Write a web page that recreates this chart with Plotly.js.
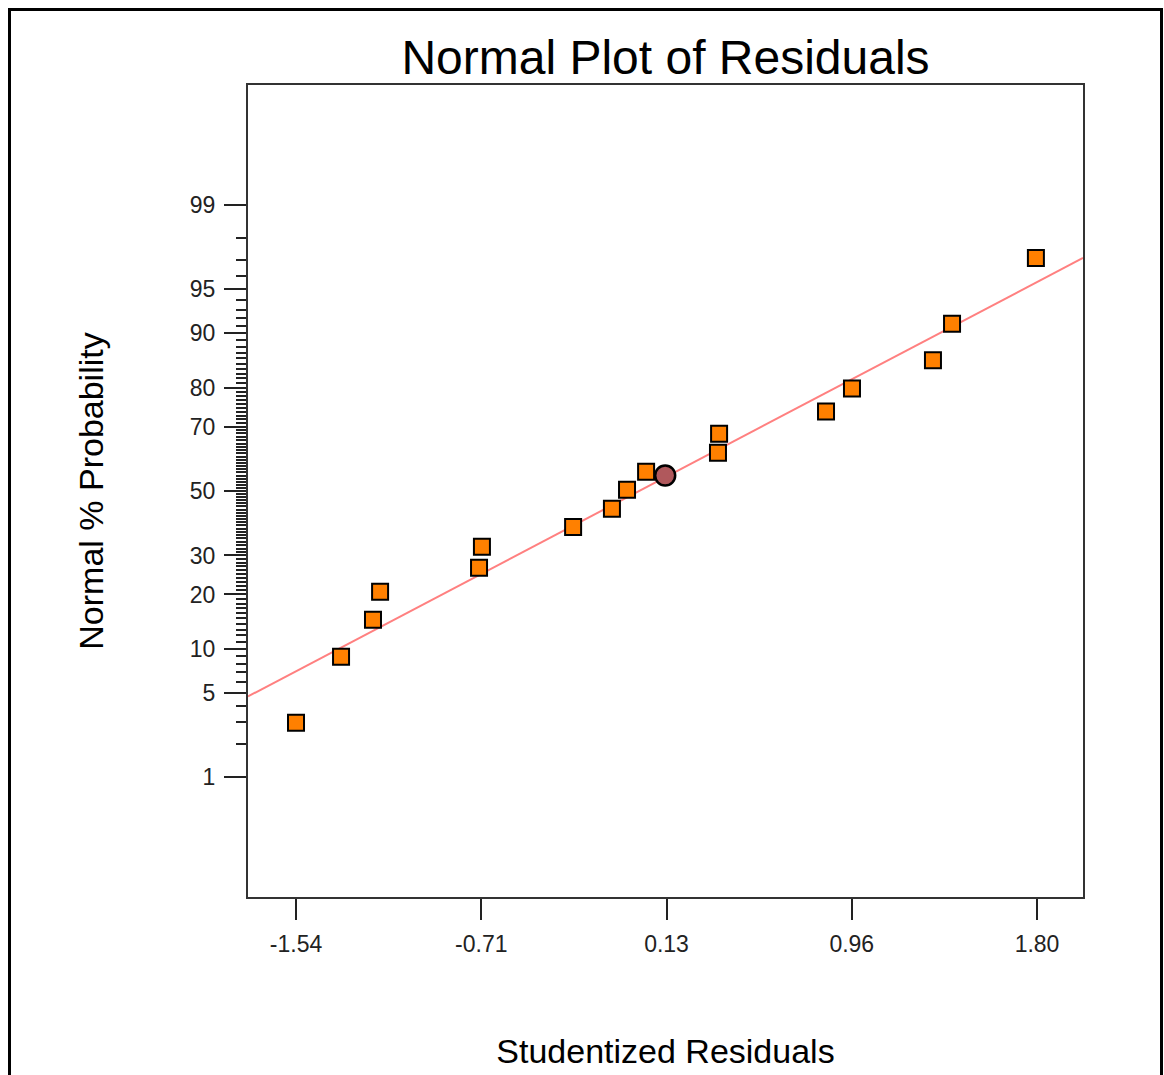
<!DOCTYPE html>
<html>
<head>
<meta charset="utf-8">
<script src="https://cdn.plot.ly/plotly-3.0.1.min.js"></script>
<style>
  html, body { margin: 0; padding: 0; background: #fff; overflow: hidden; }
  #chart { position: absolute; left: 0; top: 0; width: 1164px; height: 1075px; }
  #frame { position: absolute; left: 8px; top: 8px; width: 1155px; height: 1200px;
           border: 3px solid #000; box-sizing: border-box; pointer-events: none; }
</style>
</head>
<body>
<div id="chart"></div>
<div id="frame"></div>
<script>
// ---- data ----
const residuals = [-1.54, -1.337, -1.193, -1.161, -0.715, -0.702, -0.291, -0.116, -0.048, 0.038,
                   0.362, 0.367, 0.849, 0.966, 1.331, 1.417, 1.795];
const probabilities = [2.97, 8.88, 14.76, 20.64, 26.63, 32.5, 38.5, 44.3, 50.4, 56.2,
                       62.2, 67.9, 74.1, 79.8, 85.6, 91.3, 97.1];
const highlightResidual = [0.124];
const highlightProbability = [55.0];
const fitLineResidual = [-1.7564, 2.0073];
const fitLineProbability = [4.74, 97.1];
const xTickVals = [-1.54, -0.705, 0.13, 0.965, 1.80];
const xTickText = ['-1.54', '-0.71', '0.13', '0.96', '1.80'];
const yTickPercents = [1, 5, 10, 20, 30, 50, 70, 80, 90, 95, 99];
const yMinorPercents = [2,3,4,6,7,8,9,11,12,13,14,15,16,17,18,19,21,22,23,24,25,26,27,28,29,
  31,32,33,34,35,36,37,38,39,40,41,42,43,44,45,46,47,48,49,51,52,53,54,55,56,57,58,59,60,
  61,62,63,64,65,66,67,68,69,71,72,73,74,75,76,77,78,79,81,82,83,84,85,86,87,88,89,
  91,92,93,94,96,97,98];
const xRange = [-1.7564, 2.0073];
const yRangePercent = [0.048, 99.952];

// inverse standard normal CDF (Acklam)
function probit(p) {
  const a = [-3.969683028665376e+01, 2.209460984245205e+02, -2.759285104469687e+02,
             1.383577518672690e+02, -3.066479806614716e+01, 2.506628277459239e+00];
  const b = [-5.447609879822406e+01, 1.615858368580409e+02, -1.556989798598866e+02,
             6.680131188771972e+01, -1.328068155288572e+01];
  const c = [-7.784894002430293e-03, -3.223964580411365e-01, -2.400758277161838e+00,
             -2.549732539343734e+00, 4.374664141464968e+00, 2.938163982698783e+00];
  const d = [7.784695709041462e-03, 3.224671290700398e-01, 2.445134137142996e+00,
             3.754408661907416e+00];
  const pl = 0.02425, ph = 1 - pl;
  let q, r;
  if (p < pl) {
    q = Math.sqrt(-2 * Math.log(p));
    return (((((c[0]*q+c[1])*q+c[2])*q+c[3])*q+c[4])*q+c[5]) / ((((d[0]*q+d[1])*q+d[2])*q+d[3])*q+1);
  } else if (p <= ph) {
    q = p - 0.5; r = q * q;
    return (((((a[0]*r+a[1])*r+a[2])*r+a[3])*r+a[4])*r+a[5])*q / (((((b[0]*r+b[1])*r+b[2])*r+b[3])*r+b[4])*r+1);
  } else {
    q = Math.sqrt(-2 * Math.log(1 - p));
    return -(((((c[0]*q+c[1])*q+c[2])*q+c[3])*q+c[4])*q+c[5]) / ((((d[0]*q+d[1])*q+d[2])*q+d[3])*q+1);
  }
}
const z = pct => probit(pct / 100);

const traces = [
  {
    x: fitLineResidual, y: fitLineProbability.map(z), mode: 'lines', type: 'scatter',
    line: { color: '#FF8080', width: 2 }, hoverinfo: 'skip', cliponaxis: true
  },
  {
    x: residuals, y: probabilities.map(z), mode: 'markers', type: 'scatter',
    marker: { symbol: 'square', size: 16, color: '#FF8000', line: { color: '#000', width: 2 } }
  },
  {
    x: highlightResidual, y: highlightProbability.map(z), mode: 'markers', type: 'scatter',
    marker: { symbol: 'circle', size: 20, color: '#B0585C', line: { color: '#000', width: 2.5 } }
  }
];

const font = 'Liberation Sans, Arial, sans-serif';
const layout = {
  width: 1164, height: 1075,
  margin: { l: 248, r: 81, t: 85, b: 178 },
  paper_bgcolor: '#fff', plot_bgcolor: '#fff',
  showlegend: false,
  font: { family: font, color: '#222' },
  title: {
    text: 'Normal Plot of Residuals',
    font: { family: font, size: 48, color: '#000' },
    xref: 'paper', x: 0.5, xanchor: 'center',
    yref: 'container', y: 1 - 57 / 1075, yanchor: 'middle'
  },
  xaxis: {
    range: xRange, showgrid: false, zeroline: false,
    showline: true, mirror: true, linecolor: '#333', linewidth: 2,
    tickmode: 'array', tickvals: xTickVals, ticktext: xTickText,
    ticks: 'outside', ticklen: 21, tickwidth: 2, tickcolor: '#222',
    ticklabelstandoff: 4,
    tickfont: { family: font, size: 23, color: '#222' },
    title: { text: 'Studentized Residuals', font: { family: font, size: 34, color: '#000' }, standoff: 84 },
    automargin: false
  },
  yaxis: {
    range: yRangePercent.map(z), showgrid: false, zeroline: false,
    showline: true, mirror: true, linecolor: '#333', linewidth: 2,
    tickmode: 'array', tickvals: yTickPercents.map(z), ticktext: yTickPercents.map(String),
    ticks: 'outside', ticklen: 22, tickwidth: 2, tickcolor: '#222',
    ticklabelstandoff: 4,
    tickfont: { family: font, size: 23, color: '#222' },
    minor: { tickmode: 'array', tickvals: yMinorPercents.map(z), ticks: 'outside', ticklen: 10, tickwidth: 2, tickcolor: '#222', showgrid: false },
    title: { text: 'Normal % Probability', font: { family: font, size: 34, color: '#000' }, standoff: 76 },
    automargin: false
  }
};

Plotly.newPlot('chart', traces, layout, { displayModeBar: false, staticPlot: true });
</script>
</body>
</html>
